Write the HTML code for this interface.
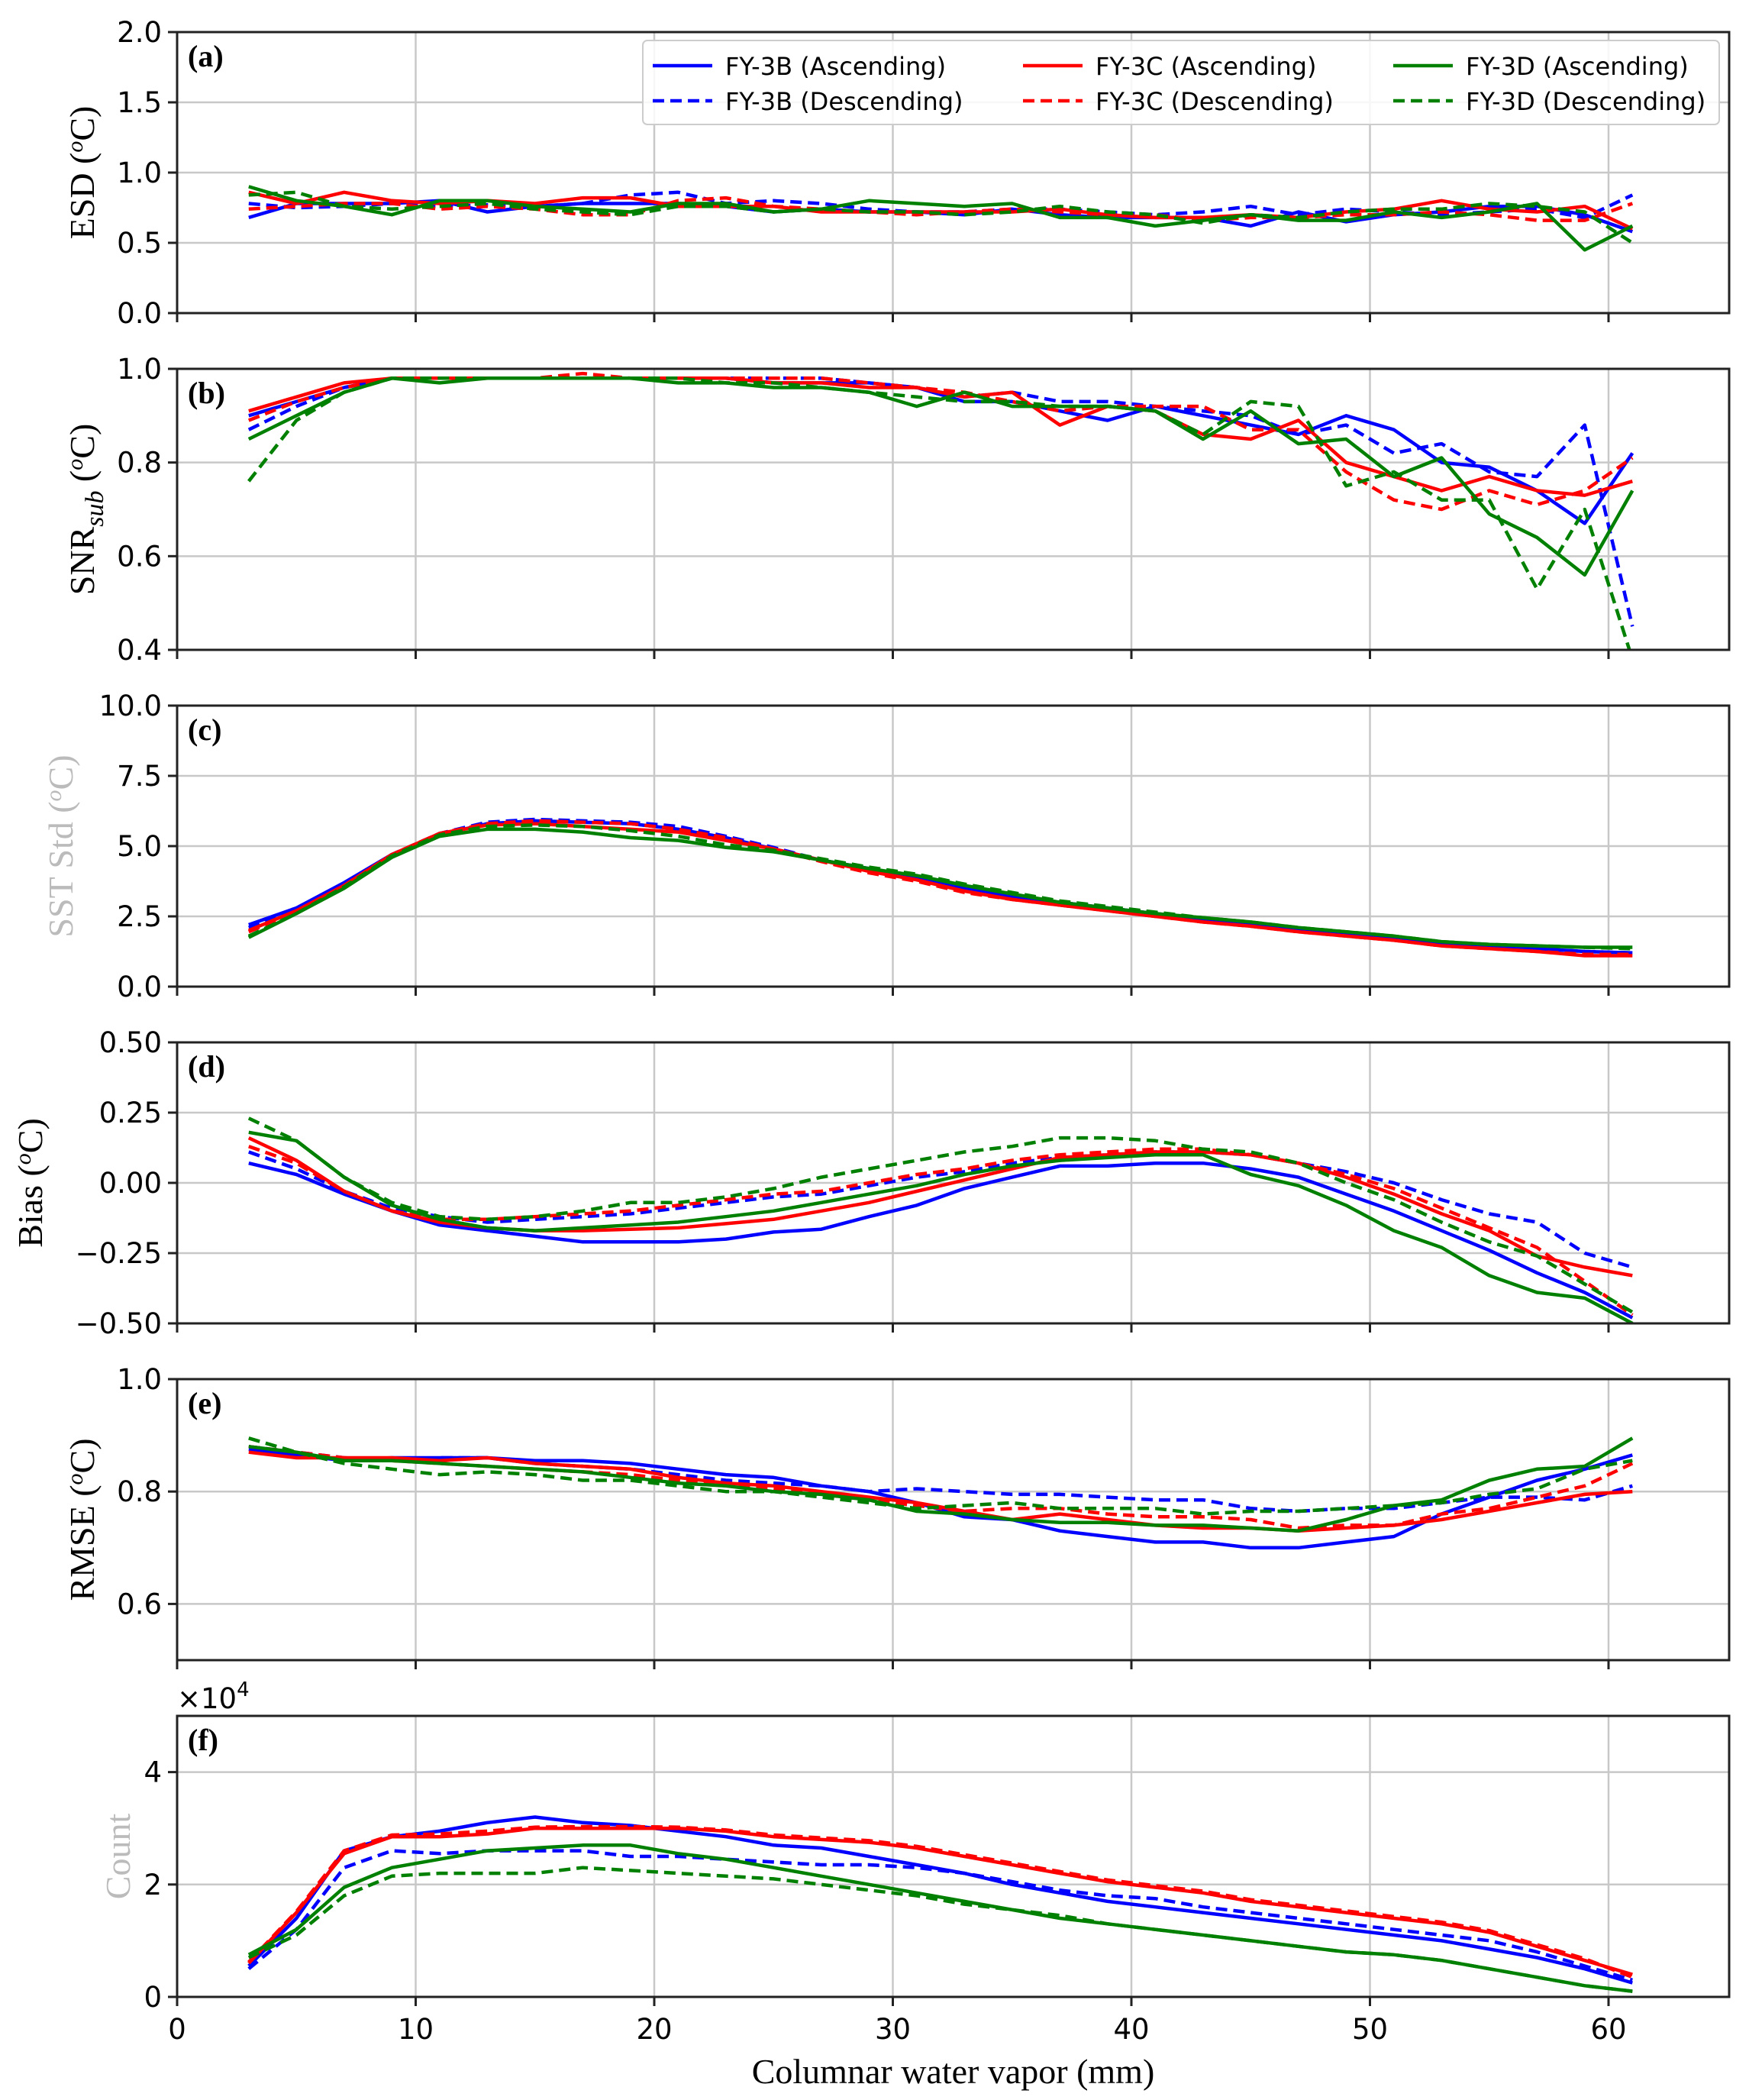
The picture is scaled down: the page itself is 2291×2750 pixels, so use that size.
<!DOCTYPE html>
<html><head><meta charset="utf-8"><style>
html,body{margin:0;padding:0;background:#fff;}
svg{display:block;}
.tk{font-family:"DejaVu Sans","Liberation Sans",sans-serif;font-size:37px;fill:#000;}
.yl{font-family:"Liberation Serif",serif;font-size:46px;fill:#000;}
.pl{font-family:"Liberation Serif",serif;font-size:40px;font-weight:bold;fill:#000;}
.lg{font-family:"DejaVu Sans","Liberation Sans",sans-serif;font-size:32px;fill:#000;}
</style></head><body>
<svg id="s" width="2291" height="2750" xmlns="http://www.w3.org/2000/svg"></svg>
<script>
const S=document.getElementById('s');let h='';
const L=232,R=2265,X0=232,XU=31.25;
const px=x=>X0+x*XU;
const xs=[];for(let x=3;x<=61;x+=2)xs.push(x);
const deg='(<tspan font-style="italic" dy="-15" font-size="30">o</tspan><tspan dy="15">C)</tspan>';
const panels=[
{t:42,lab:'(a)',min:0,max:2,ticks:[0,0.5,1,1.5,2],fmt:v=>v.toFixed(1),yl:'ESD '+deg,ylx:108,col:'#000',
d:[[0.68,0.78,0.78,0.78,0.8,0.72,0.76,0.78,0.78,0.78,0.76,0.72,0.74,0.72,0.72,0.7,0.74,0.7,0.68,0.68,0.68,0.62,0.72,0.65,0.7,0.72,0.76,0.76,0.7,0.58],
[0.78,0.75,0.76,0.78,0.76,0.77,0.76,0.78,0.84,0.86,0.78,0.8,0.78,0.74,0.72,0.72,0.74,0.74,0.72,0.7,0.72,0.76,0.7,0.74,0.72,0.7,0.72,0.74,0.68,0.84],
[0.86,0.78,0.86,0.8,0.78,0.8,0.78,0.82,0.82,0.76,0.76,0.76,0.72,0.72,0.72,0.72,0.72,0.74,0.7,0.68,0.68,0.7,0.68,0.72,0.74,0.8,0.74,0.72,0.76,0.6],
[0.74,0.76,0.78,0.78,0.74,0.76,0.74,0.7,0.7,0.8,0.82,0.76,0.74,0.72,0.7,0.72,0.74,0.72,0.7,0.7,0.66,0.68,0.68,0.7,0.7,0.72,0.7,0.66,0.66,0.78],
[0.9,0.8,0.76,0.7,0.8,0.8,0.76,0.74,0.72,0.78,0.78,0.72,0.74,0.8,0.78,0.76,0.78,0.68,0.68,0.62,0.66,0.7,0.66,0.66,0.72,0.68,0.72,0.78,0.45,0.62],
[0.84,0.86,0.76,0.74,0.76,0.78,0.74,0.72,0.7,0.76,0.76,0.72,0.74,0.72,0.72,0.7,0.72,0.76,0.72,0.7,0.64,0.7,0.68,0.72,0.74,0.74,0.78,0.76,0.72,0.5]]},
{t:483,lab:'(b)',min:0.4,max:1,ticks:[0.4,0.6,0.8,1.0],fmt:v=>v.toFixed(1),yl:'SNR<tspan font-style="italic" dy="12" font-size="34">sub</tspan><tspan dy="-12"> </tspan>'+deg,ylx:108,col:'#000',
d:[[0.9,0.93,0.96,0.98,0.98,0.98,0.98,0.98,0.98,0.98,0.98,0.97,0.97,0.97,0.96,0.93,0.93,0.91,0.89,0.92,0.9,0.88,0.86,0.9,0.87,0.8,0.79,0.74,0.67,0.82],
[0.87,0.92,0.96,0.98,0.98,0.98,0.98,0.98,0.98,0.98,0.98,0.98,0.98,0.97,0.96,0.94,0.95,0.93,0.93,0.92,0.91,0.9,0.86,0.88,0.82,0.84,0.78,0.77,0.88,0.45],
[0.91,0.94,0.97,0.98,0.98,0.98,0.98,0.98,0.98,0.98,0.98,0.97,0.97,0.96,0.96,0.94,0.95,0.88,0.92,0.91,0.86,0.85,0.89,0.8,0.77,0.74,0.77,0.74,0.73,0.76],
[0.89,0.93,0.96,0.98,0.98,0.98,0.98,0.99,0.98,0.98,0.98,0.98,0.98,0.97,0.96,0.95,0.93,0.91,0.92,0.92,0.92,0.87,0.87,0.78,0.72,0.7,0.74,0.71,0.74,0.81],
[0.85,0.9,0.95,0.98,0.97,0.98,0.98,0.98,0.98,0.97,0.97,0.96,0.96,0.95,0.92,0.95,0.92,0.92,0.92,0.91,0.85,0.91,0.84,0.85,0.77,0.81,0.69,0.64,0.56,0.74],
[0.76,0.89,0.95,0.98,0.98,0.98,0.98,0.98,0.98,0.98,0.97,0.97,0.96,0.95,0.94,0.93,0.93,0.92,0.92,0.91,0.86,0.93,0.92,0.75,0.78,0.72,0.72,0.53,0.7,0.38]]},
{t:924,lab:'(c)',min:0,max:10,ticks:[0,2.5,5,7.5,10],fmt:v=>v.toFixed(1),yl:'SST Std '+deg,ylx:80,col:'#bbb',
d:[[2.2,2.8,3.7,4.7,5.4,5.8,5.9,5.85,5.8,5.6,5.3,4.9,4.5,4.2,3.9,3.5,3.2,3.0,2.8,2.6,2.4,2.2,2.0,1.85,1.7,1.55,1.45,1.35,1.25,1.2],
[2.1,2.75,3.65,4.7,5.45,5.85,5.95,5.9,5.85,5.7,5.35,4.95,4.5,4.15,3.85,3.5,3.2,3.0,2.8,2.6,2.4,2.2,2.0,1.85,1.7,1.55,1.45,1.35,1.25,1.2],
[2.0,2.7,3.6,4.7,5.45,5.75,5.8,5.7,5.6,5.5,5.2,4.9,4.5,4.1,3.8,3.4,3.1,2.9,2.7,2.5,2.3,2.15,1.95,1.8,1.65,1.45,1.35,1.25,1.1,1.1],
[1.95,2.65,3.6,4.7,5.45,5.8,5.9,5.85,5.8,5.6,5.3,4.9,4.45,4.05,3.75,3.35,3.1,2.9,2.7,2.5,2.3,2.15,1.95,1.8,1.65,1.45,1.35,1.25,1.15,1.15],
[1.75,2.6,3.5,4.6,5.35,5.6,5.6,5.5,5.3,5.2,4.95,4.8,4.5,4.2,3.95,3.6,3.3,3.0,2.8,2.6,2.45,2.3,2.1,1.95,1.8,1.6,1.5,1.45,1.4,1.4],
[1.8,2.6,3.55,4.65,5.4,5.7,5.75,5.7,5.55,5.35,5.05,4.85,4.55,4.25,4.0,3.65,3.35,3.05,2.85,2.65,2.45,2.3,2.1,1.95,1.8,1.6,1.5,1.45,1.4,1.35]]},
{t:1365,lab:'(d)',min:-0.5,max:0.5,ticks:[-0.5,-0.25,0,0.25,0.5],fmt:v=>(v<0?'\u2212':'')+Math.abs(v).toFixed(2),yl:'Bias '+deg,ylx:40,col:'#000',
d:[[0.07,0.03,-0.04,-0.1,-0.15,-0.17,-0.19,-0.21,-0.21,-0.21,-0.2,-0.175,-0.165,-0.12,-0.08,-0.02,0.02,0.06,0.06,0.07,0.07,0.05,0.02,-0.04,-0.1,-0.17,-0.24,-0.32,-0.39,-0.48],
[0.11,0.05,-0.03,-0.09,-0.12,-0.14,-0.13,-0.12,-0.11,-0.09,-0.07,-0.05,-0.04,-0.01,0.02,0.04,0.07,0.09,0.1,0.11,0.11,0.1,0.07,0.04,0.0,-0.06,-0.11,-0.14,-0.25,-0.3],
[0.16,0.08,-0.03,-0.1,-0.14,-0.16,-0.17,-0.17,-0.165,-0.16,-0.145,-0.13,-0.1,-0.07,-0.03,0.01,0.05,0.09,0.1,0.11,0.11,0.1,0.07,0.02,-0.04,-0.11,-0.17,-0.26,-0.3,-0.33],
[0.13,0.07,-0.03,-0.1,-0.13,-0.13,-0.12,-0.11,-0.1,-0.08,-0.06,-0.04,-0.03,0.0,0.03,0.05,0.08,0.1,0.11,0.12,0.12,0.1,0.07,0.03,-0.02,-0.09,-0.16,-0.23,-0.35,-0.47],
[0.18,0.15,0.02,-0.08,-0.13,-0.16,-0.17,-0.16,-0.15,-0.14,-0.12,-0.1,-0.07,-0.04,-0.01,0.03,0.06,0.08,0.09,0.1,0.1,0.03,-0.01,-0.08,-0.17,-0.23,-0.33,-0.39,-0.41,-0.5],
[0.23,0.15,0.02,-0.07,-0.12,-0.13,-0.12,-0.1,-0.07,-0.07,-0.05,-0.02,0.02,0.05,0.08,0.11,0.13,0.16,0.16,0.15,0.12,0.11,0.07,0.0,-0.06,-0.14,-0.21,-0.26,-0.36,-0.46]]},
{t:1806,lab:'(e)',min:0.5,max:1,ticks:[0.6,0.8,1.0],fmt:v=>v.toFixed(1),yl:'RMSE '+deg,ylx:108,col:'#000',
d:[[0.875,0.865,0.855,0.86,0.86,0.86,0.855,0.855,0.85,0.84,0.83,0.825,0.81,0.8,0.78,0.755,0.75,0.73,0.72,0.71,0.71,0.7,0.7,0.71,0.72,0.76,0.79,0.82,0.84,0.865],
[0.88,0.87,0.86,0.855,0.86,0.86,0.85,0.845,0.84,0.83,0.82,0.815,0.81,0.8,0.805,0.8,0.795,0.795,0.79,0.785,0.785,0.77,0.765,0.77,0.77,0.78,0.79,0.79,0.785,0.81],
[0.87,0.86,0.86,0.86,0.855,0.86,0.85,0.845,0.84,0.825,0.815,0.81,0.8,0.79,0.78,0.765,0.75,0.76,0.75,0.74,0.735,0.735,0.73,0.735,0.74,0.75,0.765,0.78,0.795,0.8],
[0.88,0.87,0.86,0.855,0.85,0.845,0.84,0.835,0.83,0.82,0.81,0.805,0.795,0.785,0.775,0.765,0.77,0.77,0.76,0.755,0.755,0.75,0.735,0.74,0.74,0.76,0.77,0.79,0.81,0.85],
[0.88,0.87,0.855,0.855,0.85,0.845,0.84,0.835,0.825,0.815,0.81,0.8,0.795,0.785,0.765,0.76,0.75,0.745,0.745,0.74,0.74,0.735,0.73,0.75,0.775,0.785,0.82,0.84,0.845,0.895],
[0.895,0.87,0.85,0.84,0.83,0.835,0.83,0.82,0.82,0.81,0.8,0.8,0.79,0.78,0.77,0.775,0.78,0.77,0.77,0.77,0.76,0.765,0.765,0.77,0.775,0.78,0.795,0.805,0.84,0.855]]},
{t:2247,lab:'(f)',min:0,max:5,ticks:[0,2,4],fmt:v=>String(v),yl:'Count',ylx:155,col:'#bbb',
d:[[0.55,1.4,2.6,2.85,2.95,3.1,3.2,3.1,3.05,2.95,2.85,2.7,2.65,2.5,2.35,2.2,2.0,1.85,1.7,1.6,1.5,1.4,1.3,1.2,1.1,1.0,0.85,0.7,0.5,0.25],
[0.5,1.2,2.3,2.6,2.55,2.6,2.6,2.6,2.5,2.5,2.45,2.4,2.35,2.35,2.3,2.2,2.05,1.9,1.8,1.75,1.6,1.5,1.4,1.3,1.2,1.1,1.0,0.8,0.55,0.3],
[0.6,1.5,2.55,2.85,2.85,2.9,3.0,3.0,3.0,3.0,2.95,2.85,2.8,2.75,2.65,2.5,2.35,2.2,2.05,1.95,1.85,1.7,1.6,1.5,1.4,1.3,1.15,0.9,0.65,0.4],
[0.62,1.52,2.6,2.88,2.9,2.95,3.02,3.03,3.03,3.02,2.97,2.88,2.83,2.78,2.68,2.53,2.38,2.23,2.08,1.98,1.88,1.73,1.63,1.53,1.43,1.33,1.18,0.93,0.68,0.35],
[0.75,1.2,1.95,2.3,2.45,2.6,2.65,2.7,2.7,2.55,2.45,2.3,2.15,2.0,1.85,1.7,1.55,1.4,1.3,1.2,1.1,1.0,0.9,0.8,0.75,0.65,0.5,0.35,0.2,0.1],
[0.7,1.1,1.8,2.15,2.2,2.2,2.2,2.3,2.25,2.2,2.15,2.1,2.0,1.9,1.8,1.65,1.55,1.45,1.3,1.2,1.1,1.0,0.9,0.8,0.75,0.65,0.5,0.35,0.2,0.1]]}
];
const H=368,cols=['#0000ff','#0000ff','#ff0000','#ff0000','#008000','#008000'];
panels.forEach((p,pi)=>{
 const T=p.t,B=T+H;const py=v=>B-(v-p.min)/(p.max-p.min)*H;
 h+=`<defs><clipPath id="c${pi}"><rect x="${L}" y="${T}" width="${R-L}" height="${H}"/></clipPath></defs>`;
 for(let x=10;x<=60;x+=10)h+=`<line x1="${px(x)}" y1="${T}" x2="${px(x)}" y2="${B}" stroke="#c8c8c8" stroke-width="2.5"/>`;
 p.ticks.forEach(v=>{const y=py(v);
  if(y>T+1&&y<B-1)h+=`<line x1="${L}" y1="${y}" x2="${R}" y2="${y}" stroke="#c8c8c8" stroke-width="2.5"/>`;
  h+=`<line x1="${L-12}" y1="${y}" x2="${L}" y2="${y}" stroke="#222" stroke-width="3"/>`;
  h+=`<text class="tk" x="${L-20}" y="${y+13}" text-anchor="end">${p.fmt(v)}</text>`;});
 for(let x=0;x<=60;x+=10)h+=`<line x1="${px(x)}" y1="${B}" x2="${px(x)}" y2="${B+12}" stroke="#222" stroke-width="3"/>`;
 p.d.forEach((s,i)=>{const pts=s.map((v,j)=>px(xs[j]).toFixed(1)+','+py(v).toFixed(1)).join(' ');
  h+=`<polyline clip-path="url(#c${pi})" points="${pts}" fill="none" stroke="${cols[i]}" stroke-width="4.5" stroke-linejoin="round" ${i%2?'stroke-dasharray="15,8"':''}/>`;});
 h+=`<rect x="${L}" y="${T}" width="${R-L}" height="${H}" fill="none" stroke="#222" stroke-width="3"/>`;
 h+=`<text class="pl" x="${L+14}" y="${T+45}">${p.lab}</text>`;
 const cy=T+H/2;
 h+=`<text class="yl" transform="translate(${p.ylx+15},${cy}) rotate(-90)" text-anchor="middle" style="fill:${p.col}">${p.yl}</text>`;
});
for(let x=0;x<=60;x+=10)h+=`<text class="tk" x="${px(x)}" y="${2615+55}" text-anchor="middle">${x}</text>`;
h+=`<text class="yl" x="${(L+R)/2}" y="2728" text-anchor="middle" font-size="48">Columnar water vapor (mm)</text>`;
h+=`<text class="tk" x="${L}" y="2237">\u00d710<tspan dy="-16" font-size="26">4</tspan></text>`;
h+=`<rect x="842" y="53" width="1410" height="110" rx="6" fill="#fff" fill-opacity="0.85" stroke="#ccc" stroke-width="2"/>`;
const lg=[['FY-3B (Ascending)',0,0],['FY-3B (Descending)',0,1],['FY-3C (Ascending)',1,0],['FY-3C (Descending)',1,1],['FY-3D (Ascending)',2,0],['FY-3D (Descending)',2,1]];
const lc=['#0000ff','#ff0000','#008000'];const cx=[855,1340,1825];
lg.forEach(([t,c,r])=>{const y=r?132:86;
 h+=`<line x1="${cx[c]}" y1="${y}" x2="${cx[c]+78}" y2="${y}" stroke="${lc[c]}" stroke-width="4.5" ${r?'stroke-dasharray="15,8"':''}/>`;
 h+=`<text class="lg" x="${cx[c]+95}" y="${y+12}">${t}</text>`;});
S.innerHTML=h;
</script>
</body></html>
